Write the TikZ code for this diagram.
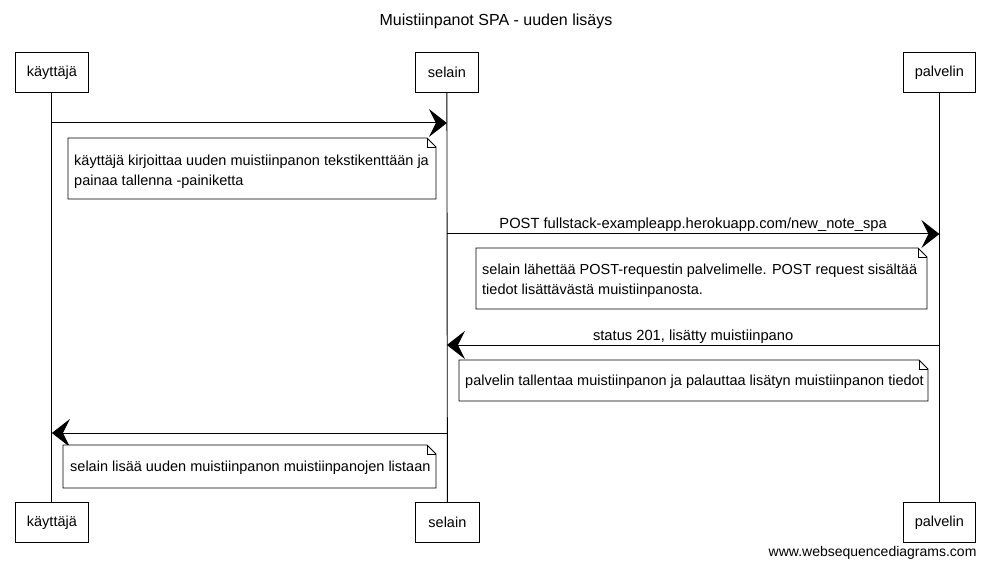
\documentclass[tikz,border=0pt]{standalone}
\usepackage{fontspec}
\setmainfont{Liberation Sans}
\usetikzlibrary{arrows.meta,calc}
\begin{document}
\begin{tikzpicture}[x=1pt,y=-1pt,
  actor/.style={draw,line width=0.8pt,minimum height=40pt,inner xsep=0pt,font=\fontsize{14.5}{16}\selectfont,anchor=north west},
  life/.style={line width=0.9pt},
  msg/.style={line width=1pt,-{Stealth[length=18pt,width=28pt,inset=7pt]}},
  lbl/.style={font=\fontsize{14.7}{16}\selectfont,anchor=base,yshift=5pt},
  notebox/.style={line width=0.8pt,fill=white},
  notefold/.style={line width=0.6pt},
  notetext/.style={font=\fontsize{14.5}{20}\selectfont,align=left,anchor=north west,inner sep=0pt}
]
\useasboundingbox (0,0) rectangle (989,567);
\fill[white] (0,0) rectangle (989,567);
\node[font=\fontsize{16}{18}\selectfont,anchor=base] (title) at (496,26) {Muistiinpanot SPA - uuden lisäys};
% participants top
\node[actor,minimum width=73pt] (kt) at (15,52) {käyttäjä};
\node[actor,minimum width=63pt] (st) at (415,52) {selain};
\node[actor,minimum width=72pt] (pt) at (903,52) {palvelin};
% participants bottom
\node[actor,minimum width=73pt] (kb) at (15,502) {käyttäjä};
\node[actor,minimum width=64pt] (sb) at (415,502) {selain};
\node[actor,minimum width=72pt] (pb) at (903,502) {palvelin};
% lifelines
\draw[life] (kt.south) -- (kb.north);
\draw[life] (st.south) -- (sb.north);
\draw[life] (pt.south) -- (pb.north);
% message coordinates
\coordinate (k1) at (kt.south |- 0,123);
\coordinate (s1) at (st.south |- 0,123);
\coordinate (s2) at (st.south |- 0,234);
\coordinate (p2) at (pt.south |- 0,234);
\coordinate (p3) at (pt.south |- 0,345);
\coordinate (s3) at (st.south |- 0,345);
\coordinate (s4) at (st.south |- 0,433);
\coordinate (k4) at (kt.south |- 0,433);
% messages and notes
\draw[msg] (k1) -- (s1);
\draw[notebox] (68,138) -- (427,138) -- (436,147) -- (436,199) -- (68,199) -- cycle;
\draw[notefold] (427,138) -- (427,147) -- (436,147);
\node[notetext] (n1) at (74,155) {käyttäjä kirjoittaa uuden muistiinpanon tekstikenttään ja\\painaa tallenna -painiketta};

\draw[msg] (s2) -- node[lbl] (l2) {POST fullstack-exampleapp.herokuapp.com/new\_note\_spa} (p2);
\draw[notebox] (476,248) -- (918,248) -- (927,257) -- (927,309) -- (476,309) -- cycle;
\draw[notefold] (918,248) -- (918,257) -- (927,257);
\node[notetext] (n2) at (482,264) {selain lähettää POST-requestin palvelimelle. POST request sisältää\\tiedot lisättävästä muistiinpanosta.};

\draw[msg] (p3) -- node[lbl] (l3) {status 201, lisätty muistiinpano} (s3);
\draw[notebox] (459,360) -- (919,360) -- (928,369) -- (928,401) -- (459,401) -- cycle;
\draw[notefold] (919,360) -- (919,369) -- (928,369);
\node[notetext] (n3) at (465,375) {palvelin tallentaa muistiinpanon ja palauttaa lisätyn muistiinpanon tiedot};

\draw[msg] (s4) -- (k4);
\draw[notebox] (63,445) -- (427,445) -- (436,454) -- (436,488) -- (63,488) -- cycle;
\draw[notefold] (427,445) -- (427,454) -- (436,454);
\node[notetext] (n4) at (70,461) {selain lisää uuden muistiinpanon muistiinpanojen listaan};

\node[font=\fontsize{14}{16}\selectfont,anchor=base east] (foot) at (980,556) {www.websequencediagrams.com};
\end{tikzpicture}
\end{document}
